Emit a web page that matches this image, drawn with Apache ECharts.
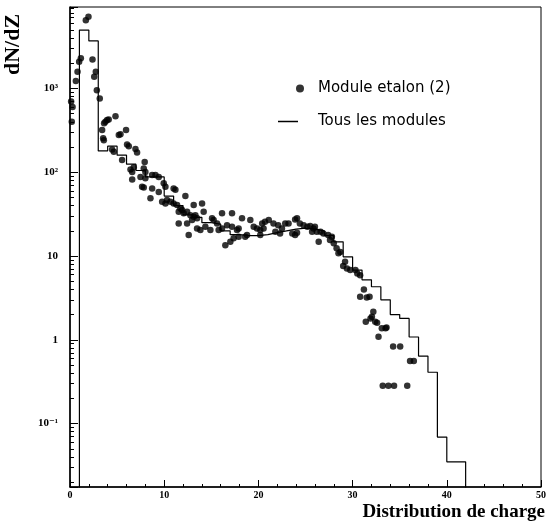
<!DOCTYPE html>
<html>
<head>
<meta charset="utf-8">
<script src="https://cdn.jsdelivr.net/npm/echarts@6/dist/echarts.min.js"></script>
<style>
  html, body { margin: 0; padding: 0; background: #fff; }
  #chart { width: 550px; height: 527px; }
</style>
</head>
<body>
<div id="chart"></div>
<script>
// histogram "Tous les modules": one value per unit bin, starting at Z = 0 (0 = empty bin)
const histStart = 0;
const histValues = [0, 4980, 3700, 180, 205, 160, 125, 105, 88, 88,
  52, 40, 31, 29, 25, 24, 20, 18, 17.5, 17.5,
  18, 19, 20, 21, 21.5, 21, 20, 17.5, 14.8, 9.8,
  6.8, 5.2, 4.3, 3.0, 2.0, 1.8, 1.08, 0.64, 0.41, 0.069,
  0.035, 0.035, 0];

// points "Module etalon (2)"
const etalonZ = [0.12, 0.19, 0.27, 0.62, 0.8, 0.97, 1.15, 1.68, 1.96, 2.39, 2.57, 2.74, 2.85, 3.16,
  3.41, 3.52, 3.59, 3.62, 3.76, 3.94, 4.11, 4.47, 4.65, 4.83, 5.18, 5.36, 5.53, 5.95, 6.06, 6.24,
  6.42, 6.6, 6.6, 6.77, 6.95, 7.12, 7.48, 7.65, 7.83, 7.83, 7.93, 8.0, 8.0, 8.54, 8.72, 8.72,
  9.07, 9.42, 9.42, 9.78, 9.95, 10.13, 10.13, 10.3, 10.66, 11.0, 11.0, 11.19, 11.37, 11.54, 11.54,
  11.72, 11.9, 12.07, 12.25, 12.43, 12.43, 12.6, 12.78, 12.96, 13.13, 13.13, 13.31, 13.49, 13.49,
  13.84, 14.02, 14.19, 14.37, 14.9, 15.08, 15.25, 15.61, 15.78, 16.14, 16.14, 16.49, 16.67, 17.02,
  17.2, 17.2, 17.37, 17.73, 17.9, 17.9, 18.26, 18.6, 18.79, 19.14, 19.5, 19.85, 20.2, 20.2, 20.4,
  20.55, 20.7, 21.1, 21.6, 21.8, 22.1, 22.3, 22.5, 22.85, 23.2, 23.6, 23.9, 23.9, 24.1, 24.1,
  24.4, 24.8, 25.2, 25.5, 25.7, 25.85, 26.0, 26.2, 26.4, 26.6, 26.9, 27.4, 27.6, 27.8, 28.0,
  28.3, 28.5, 28.7, 29.0, 29.2, 29.4, 29.75, 30.3, 30.5, 30.8, 30.8, 31.2, 31.5, 31.8, 31.4,
  31.9, 32.05, 32.2, 32.4, 32.6, 32.75, 33.1, 33.5, 33.6, 34.3, 35.05, 36.1, 36.5,
  33.2, 33.8, 34.4, 35.8];
const etalonN = [700, 400, 600, 1230, 1590, 2080, 2290, 6550, 7180, 2220, 1380, 1590, 955, 760,
  319, 254, 242, 384, 401, 420, 428, 187, 176, 468, 278, 285, 140, 320, 215, 205,
  108, 101, 82, 115, 190, 172, 88, 67, 66, 111, 133, 101, 85, 49, 64, 93,
  93, 88, 58, 44.5, 74, 67, 42.5, 46.6, 44.5, 64, 42.5, 62, 40.6, 24.5, 33.8,
  37, 35.4, 32.4, 52, 24.5, 33.8, 17.8, 30.8, 26.9, 40.6, 29.5, 30.8, 21.4, 28.2,
  20.4, 42.5, 33.8, 22.4, 20.4, 28.2, 26.9, 24.5, 20.4, 32.4, 21.4, 13.5, 23.4, 14.8,
  32.4, 22.4, 16.3, 20.4, 21.4, 17.0, 28.2, 17.0, 17.8, 26.9, 22.4, 21.4, 20.4, 17.8, 24.5,
  21.4, 25.7, 26.9, 24.5, 19.5, 23.4, 18.6, 21.4, 24.5, 24.5, 18.6, 17.8, 27.4, 28.2, 19.0,
  24.5, 23.4, 22.4, 22.8, 19.5, 21.4, 22.4, 19.5, 14.8, 19.5, 18.6, 17.8, 15.5, 17.0, 14.2,
  12.4, 10.8, 11.2, 7.6, 8.55, 7.1, 6.8, 6.8, 6.2, 5.9, 3.27, 4.0, 3.2, 3.27, 1.64,
  1.8, 1.89, 2.16, 1.64, 1.6, 1.09, 1.37, 1.37, 1.4, 0.83, 0.83, 0.56, 0.56,
  0.283, 0.283, 0.283, 0.283];

// axis ticks
const yTickValues = [0.1, 1, 10, 100, 1000];
const yTickLabels = ['10⁻¹', '1', '10', '10²', '10³'];
const yMin = 0.0175;
const yMax = 9400;

const EMPTY = 1e-4; // empty bins drawn below the axis (clipped)
const histData = histValues.map((v, i) => [histStart + i, v > 0 ? v : EMPTY]);
const scatterData = etalonZ.map((z, i) => [z, etalonN[i]]);

const serif = '"Liberation Serif", "DejaVu Serif", serif';
const sans = '"DejaVu Sans", sans-serif';

const chart = echarts.init(document.getElementById('chart'));
chart.setOption({
  animation: false,
  backgroundColor: '#fff',
  grid: {
    left: 70,
    right: 9,
    top: 7,
    bottom: 40,
    show: true,
    borderColor: '#000',
    borderWidth: 1,
  },
  legend: [
    {
      data: ['Module etalon (2)'],
      left: 296,
      top: 81,
      padding: 0,
      icon: 'circle',
      itemWidth: 8,
      itemHeight: 8,
      selectedMode: false,
      textStyle: { fontFamily: sans, fontSize: 15, color: '#000', padding: [0, 0, 0, 9] },
    },
    {
      data: ['Tous les modules'],
      left: 278,
      top: 114,
      padding: 0,
      icon: 'rect',
      itemWidth: 20,
      itemHeight: 1.5,
      selectedMode: false,
      textStyle: { fontFamily: sans, fontSize: 15, color: '#000', padding: [0, 0, 0, 15] },
    },
  ],
  xAxis: {
    type: 'value',
    min: 0,
    max: 50,
    interval: 10,
    name: 'Distribution de charge',
    nameLocation: 'end',
    nameGap: 4,
    nameTextStyle: {
      fontFamily: serif, fontWeight: 'bold', fontSize: 19, color: '#000',
      align: 'right', verticalAlign: 'top', padding: [16, 0, 0, 0],
    },
    axisLine: { lineStyle: { color: '#000', width: 1.5 } },
    axisTick: { inside: true, length: 7, lineStyle: { color: '#000' } },
    minorTick: { show: true, splitNumber: 5, length: 3, lineStyle: { color: '#000' } },
    splitLine: { show: false },
    axisLabel: { fontFamily: serif, fontWeight: 'bold', fontSize: 10, color: '#000', margin: 3 },
  },
  yAxis: {
    type: 'log',
    min: yMin,
    max: yMax,
    name: 'dN/dZ',
    nameLocation: 'end',
    nameRotate: 90,
    nameGap: -68,
    nameTextStyle: {
      fontFamily: serif, fontWeight: 'bold', fontSize: 22, color: '#000',
      align: 'left', verticalAlign: 'bottom', padding: [0, 0, 46, 0],
    },
    axisLine: { lineStyle: { color: '#000', width: 1.5 } },
    axisTick: { inside: true, length: 8, lineStyle: { color: '#000' } },
    minorTick: { show: true, splitNumber: 9, length: 4, lineStyle: { color: '#000' } },
    splitLine: { show: false },
    axisLabel: {
      fontFamily: serif, fontWeight: 'bold', fontSize: 11, color: '#000', margin: 12,
      formatter: function (v) {
        const i = yTickValues.findIndex(t => Math.abs(Math.log10(v) - Math.log10(t)) < 1e-6);
        return i >= 0 ? yTickLabels[i] : '';
      },
    },
  },
  series: [
    {
      name: 'Module etalon (2)',
      type: 'scatter',
      data: scatterData,
      symbol: 'circle',
      symbolSize: 6.5,
      itemStyle: { color: '#000' },
    },
    {
      name: 'Tous les modules',
      type: 'line',
      step: 'end',
      data: histData,
      showSymbol: false,
      clip: true,
      lineStyle: { color: '#000', width: 1.2 },
      itemStyle: { color: '#000' },
    },
  ],
});
</script>
</body>
</html>
